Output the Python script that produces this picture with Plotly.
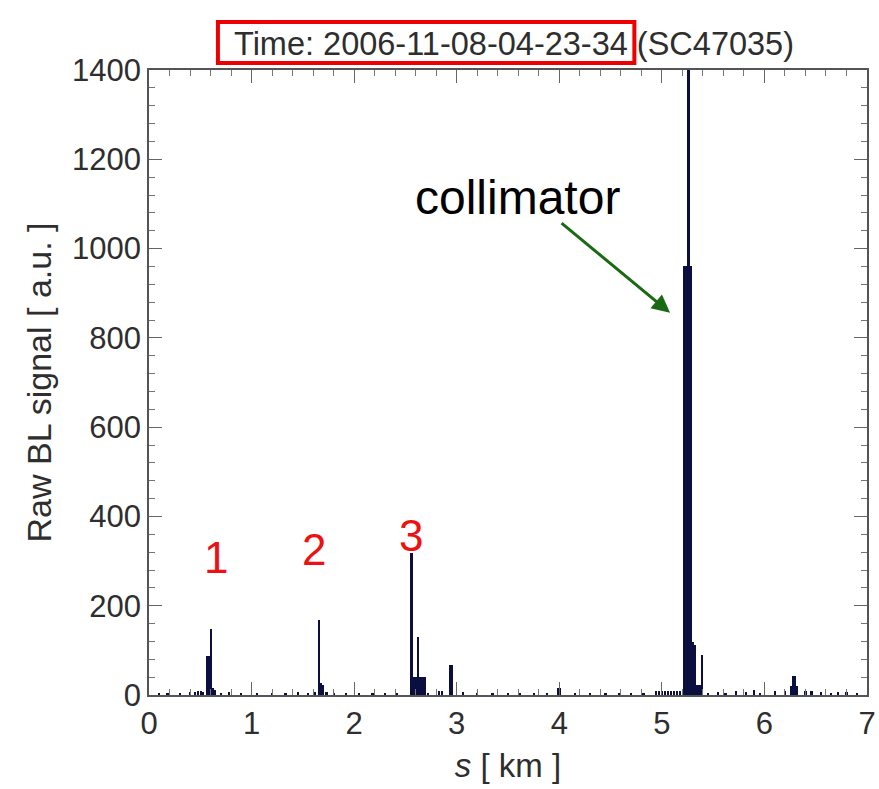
import plotly.graph_objects as go

# Beam-loss monitor readings along the ring: position s [km] and raw signal [a.u.]
s_km = [
    0.10, 0.18, 0.30, 0.40, 0.45, 0.48, 0.51, 0.53,
    0.565, 0.585, 0.605, 0.625, 0.645, 0.70, 0.78, 0.90, 1.05, 1.20, 1.33, 1.45, 1.55, 1.62,
    1.655, 1.675, 1.695, 1.73, 1.80, 1.92, 2.05, 2.18, 2.30, 2.42,
    2.558, 2.58, 2.60, 2.622, 2.645, 2.667, 2.685, 2.72, 2.83, 2.86,
    2.935, 2.955, 3.06, 3.20, 3.35, 3.50, 3.62, 3.75, 3.88,
    3.99, 4.01, 4.15, 4.30, 4.45, 4.58, 4.70, 4.82,
    4.94, 4.97, 5.00, 5.03, 5.06, 5.09, 5.12, 5.15, 5.18,
    5.215, 5.237, 5.259, 5.281, 5.303, 5.325, 5.347, 5.369, 5.391,
    5.45, 5.55, 5.62, 5.72, 5.82, 5.90, 5.96, 6.10, 6.20,
    6.26, 6.28, 6.30, 6.32, 6.40, 6.46, 6.55, 6.65, 6.72, 6.80, 6.90,
]
raw_signal = [
    3, 5, 4, 6, 7, 8, 8, 7,
    88, 88, 148, 15, 12, 5, 6, 4, 5, 4, 5, 6, 5, 6,
    168, 28, 22, 6, 4, 5, 4, 5, 4, 5,
    318, 40, 40, 130, 40, 40, 40, 5, 9, 9,
    68, 68, 6, 4, 5, 4, 5, 4, 5,
    15, 15, 4, 5, 4, 5, 4, 5,
    8, 9, 8, 9, 8, 9, 8, 9, 9,
    960, 960, 1500, 960, 118, 112, 22, 22, 90,
    5, 6, 5, 8, 6, 12, 5, 8, 10,
    20, 42, 42, 20, 10, 8, 6, 5, 7, 6, 4,
]

x_ticks = [0, 1, 2, 3, 4, 5, 6, 7]
y_ticks = [0, 200, 400, 600, 800, 1000, 1200, 1400]

BAR_COLOR = "#0b0f40"
FONT = "Liberation Sans, Arial, sans-serif"
TEXT_COLOR = "#2e2e2e"

fig = go.Figure()
fig.add_trace(go.Bar(
    x=s_km, y=raw_signal, width=0.022,
    marker=dict(color=BAR_COLOR, line=dict(width=0)),
    showlegend=False,
))

axis_common = dict(
    showgrid=False, zeroline=False, automargin=False,
    showline=True, linecolor="#555555", linewidth=1.5, mirror="ticks",
    ticks="inside", ticklen=13, tickwidth=1.2, tickcolor="#666666",
    tickfont=dict(family=FONT, size=31, color=TEXT_COLOR),
)

fig.update_xaxes(
    range=[0, 7], tickvals=x_ticks, ticktext=[str(v) for v in x_ticks],
    minor=dict(dtick=0.2, ticks="inside", ticklen=6, tickcolor="#777777", tickwidth=1),
    title=dict(text="<i>s</i> [ km ]", font=dict(family=FONT, size=33, color=TEXT_COLOR), standoff=14),
    **axis_common,
)
fig.update_yaxes(
    range=[0, 1400], tickvals=y_ticks, ticktext=[str(v) for v in y_ticks],
    minor=dict(dtick=40, ticks="inside", ticklen=6, tickcolor="#777777", tickwidth=1),
    title=dict(text="Raw BL signal [ a.u. ]", font=dict(family=FONT, size=34, color=TEXT_COLOR), standoff=10),
    **axis_common,
)

# Title line with the timestamp boxed in red
fig.add_annotation(
    xref="paper", yref="paper", x=0.508, y=1.0416, xanchor="center", yanchor="middle",
    showarrow=False,
    text="Time: 2006-11-08-04-23-34 (SC47035)",
    font=dict(family=FONT, size=32.5, color=TEXT_COLOR),
)
fig.add_shape(
    type="rect", xref="paper", yref="paper",
    x0=0.096, x1=0.676, y0=1.0112, y1=1.0768,
    line=dict(color="#ee0000", width=4), fillcolor="rgba(0,0,0,0)",
)

# Collimator label and arrow
fig.add_annotation(
    x=3.59, y=1115, xref="x", yref="y", showarrow=False,
    text="collimator", font=dict(family=FONT, size=48, color="black"),
)
fig.add_annotation(
    x=5.08, y=856, xref="x", yref="y", ax=-110, ay=-91, axref="pixel", ayref="pixel",
    showarrow=True, arrowhead=2, arrowsize=1.2, arrowwidth=3, arrowcolor="#1a6a14", text="",
)

# Numbered loss locations
for label, sx, sy in [("1", 0.65, 309), ("2", 1.61, 325), ("3", 2.55, 358)]:
    fig.add_annotation(
        x=sx, y=sy, xref="x", yref="y", showarrow=False, text=label,
        font=dict(family=FONT, size=44, color="#ee1111"),
    )

fig.update_layout(
    width=879, height=789,
    margin=dict(l=149, r=12, t=70, b=94),
    paper_bgcolor="white", plot_bgcolor="white",
    bargap=0,
)

fig.write_html("out.html")
